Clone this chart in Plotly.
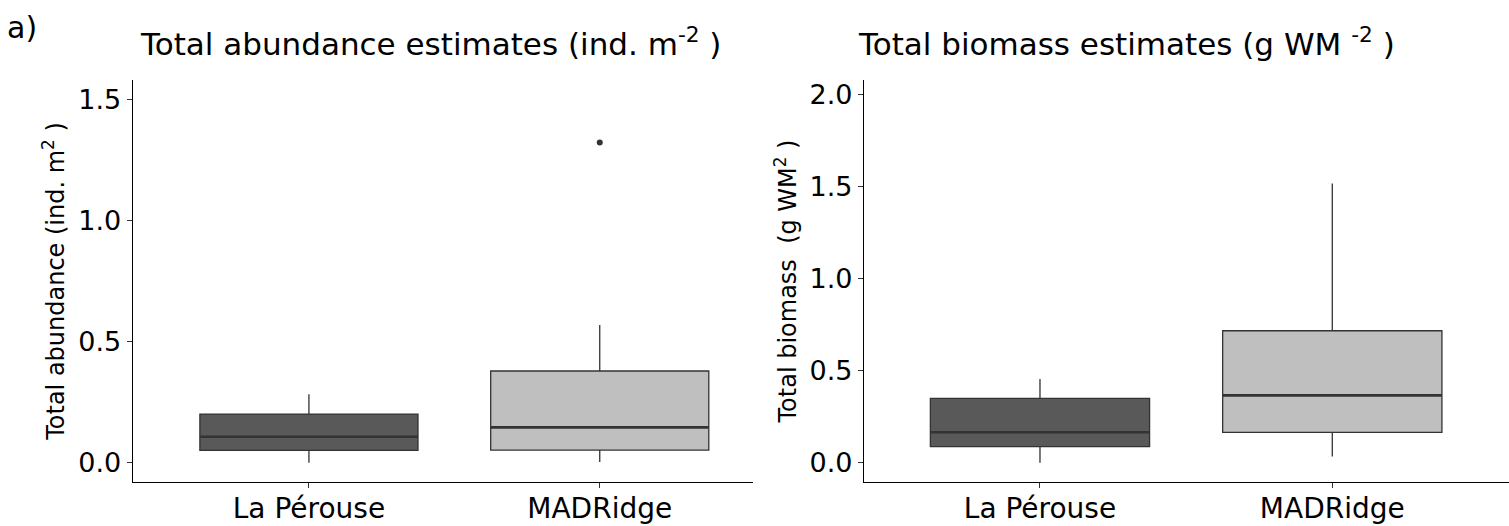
import plotly.graph_objects as go

# Sites (x categories) and their tick positions
sites = ["La Pérouse", "MADRidge"]
site_pos = [1, 2]
site_fill = ["#595959", "#bfbfbf"]

# Total abundance (ind. m-2): box-plot summary per site
abund_lower = [0.0, 0.003]
abund_q1 = [0.051, 0.052]
abund_median = [0.107, 0.146]
abund_q3 = [0.201, 0.379]
abund_upper = [0.283, 0.569]
abund_outlier_site = [2]
abund_outlier_value = [1.324]

# Total biomass (g WM-2): box-plot summary per site
biom_lower = [0.0, 0.033]
biom_q1 = [0.087, 0.165]
biom_median = [0.165, 0.366]
biom_q3 = [0.350, 0.717]
biom_upper = [0.455, 1.518]

abund_ticks = [0.0, 0.5, 1.0, 1.5]
biom_ticks = [0.0, 0.5, 1.0, 1.5, 2.0]

BOX_WIDTH = 0.75
LINE = "#333333"
FONT = "DejaVu Sans, Liberation Sans, Arial, sans-serif"

W, H = 1509, 526

fig = go.Figure()


def add_panel(xa, ya, lower, q1, med, q3, upper):
    for i, s in enumerate(sites):
        fig.add_trace(go.Box(
            x=[site_pos[i]], q1=[q1[i]], median=[med[i]], q3=[q3[i]],
            lowerfence=[lower[i]], upperfence=[upper[i]],
            width=BOX_WIDTH, whiskerwidth=0, boxpoints=False,
            fillcolor=site_fill[i], line=dict(color=LINE, width=1.3),
            name=s, showlegend=False, xaxis=xa, yaxis=ya, hoverinfo="skip",
        ))
        # thicker median bar, as in ggplot boxplots
        fig.add_trace(go.Scatter(
            x=[site_pos[i] - BOX_WIDTH / 2, site_pos[i] + BOX_WIDTH / 2],
            y=[med[i], med[i]], mode="lines",
            line=dict(color=LINE, width=2.6), showlegend=False,
            xaxis=xa, yaxis=ya, hoverinfo="skip",
        ))


add_panel("x", "y", abund_lower, abund_q1, abund_median, abund_q3, abund_upper)
add_panel("x2", "y2", biom_lower, biom_q1, biom_median, biom_q3, biom_upper)

fig.add_trace(go.Scatter(
    x=abund_outlier_site, y=abund_outlier_value, mode="markers",
    marker=dict(color=LINE, size=6), showlegend=False,
    xaxis="x", yaxis="y", hoverinfo="skip",
))

y_dom = [(H - 482) / H, (H - 80) / H]

axis_common = dict(
    showline=True, linecolor="black", linewidth=1.2, mirror=False,
    ticks="outside", ticklen=5, tickwidth=1, tickcolor=LINE,
    showgrid=False, zeroline=False,
)
y_tickfont = dict(family=FONT, size=27, color="black")
x_tickfont = dict(family=FONT, size=28, color="black")

fig.update_layout(
    width=W, height=H,
    margin=dict(l=0, r=0, t=0, b=0),
    paper_bgcolor="white", plot_bgcolor="white",
    xaxis=dict(domain=[132.7 / W, 753 / W], range=[0.394, 2.527],
               tickvals=site_pos, ticktext=sites, anchor="y",
               tickfont=x_tickfont, automargin=False, ticklabelstandoff=-4,
               **axis_common),
    yaxis=dict(domain=y_dom, range=[-0.08, 1.582], tickvals=abund_ticks,
               ticktext=["0.0", "0.5", "1.0", "1.5"], anchor="x",
               tickfont=y_tickfont, automargin=True,
               title=dict(text="Total abundance (ind. m<sup>2</sup> )",
                          font=dict(family=FONT, size=24, color="black"),
                          standoff=6),
               **axis_common),
    xaxis2=dict(domain=[864 / W, 1.0], range=[0.398, 2.6045],
                tickvals=site_pos, ticktext=sites, anchor="y2",
                tickfont=x_tickfont, automargin=False, ticklabelstandoff=-4,
                **axis_common),
    yaxis2=dict(domain=y_dom, range=[-0.105, 2.08], tickvals=biom_ticks,
                ticktext=["0.0", "0.5", "1.0", "1.5", "2.0"], anchor="x2",
                tickfont=y_tickfont, automargin=True,
                title=dict(text="Total biomass\u00a0\u00a0(g WM<sup>2</sup> )",
                           font=dict(family=FONT, size=24, color="black"),
                           standoff=6),
                **axis_common),
    annotations=[
        dict(text="a)", x=5 / W, y=1 - 27 / H, xref="paper", yref="paper",
             xanchor="left", yanchor="middle", showarrow=False,
             font=dict(family=FONT, size=30, color="black")),
        dict(text="Total abundance estimates (ind. m<sup>-2</sup> )",
             x=138 / W, y=1 - 42 / H, xref="paper", yref="paper",
             xanchor="left", yanchor="middle", showarrow=False,
             font=dict(family=FONT, size=31, color="black")),
        dict(text="Total biomass estimates (g WM <sup>-2</sup> )",
             x=856 / W, y=1 - 42 / H, xref="paper", yref="paper",
             xanchor="left", yanchor="middle", showarrow=False,
             font=dict(family=FONT, size=31, color="black")),
    ],
)

fig.write_html("out.html")
